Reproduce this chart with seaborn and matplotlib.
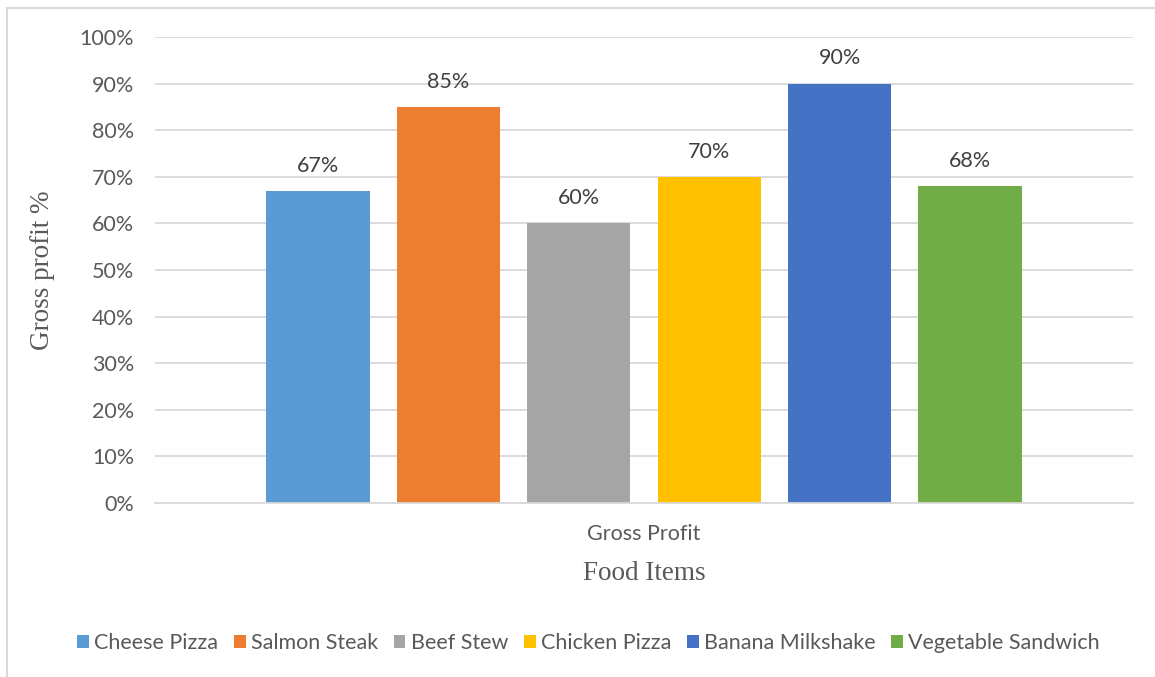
import matplotlib
matplotlib.use("Agg")
import matplotlib.pyplot as plt
import seaborn as sns
import pandas as pd
from matplotlib.lines import Line2D
from matplotlib.patches import Patch

items = ["Cheese Pizza", "Salmon Steak", "Beef Stew", "Chicken Pizza",
         "Banana Milkshake", "Vegetable Sandwich"]
values = [67, 85, 60, 70, 90, 68]
category = ["Gross Profit"] * len(items)
colors = ["#5B9BD5", "#ED7D31", "#A5A5A5", "#FFC000", "#4472C4", "#70AD47"]
yticks = [0, 10, 20, 30, 40, 50, 60, 70, 80, 90, 100]

df = pd.DataFrame({"cat": category, "item": items, "value": values})

sns.set_theme(style="white")
plt.rcParams["font.family"] = ["Lato", "DejaVu Sans"]

fig = plt.figure(figsize=(11.55, 6.77), dpi=100)
ax = fig.add_axes([155/1155, 1 - 503/677, (1133-155)/1155, (503-37)/677])

sns.barplot(data=df, x="cat", y="value", hue="item", hue_order=items,
            palette=colors, gap=0.21, width=0.8, ax=ax, legend=False,
            saturation=1, errorbar=None, linewidth=0, edgecolor="none")

ax.set_xlim(-0.5, 0.5)
ax.set_ylim(0, 100)
ax.set_yticks(yticks)
ax.set_yticklabels([f"{v}%" for v in yticks], fontsize=15.5, color="#595959")
ax.tick_params(axis="y", length=0, pad=15)
ax.tick_params(axis="x", length=0, pad=15, labelsize=15.5, labelcolor="#595959")
ax.grid(axis="y", color="#D9D9D9", linewidth=1.3)
ax.set_axisbelow(True)
for s in ["top", "right", "left"]:
    ax.spines[s].set_visible(False)
ax.spines["bottom"].set_color("#D9D9D9")
ax.spines["bottom"].set_linewidth(1.3)

for cont in ax.containers:
    ax.bar_label(cont, labels=[f"{int(v)}%" for v in cont.datavalues],
                 padding=11, fontsize=15.5, color="#404040")

ax.set_xlabel("Food Items", family=["Liberation Serif"], fontsize=19.5,
              color="#595959", labelpad=12)
ax.set_ylabel("Gross profit %", family=["Liberation Serif"], fontsize=19.5,
              color="#595959", labelpad=18)

handles = [Patch(facecolor=c, edgecolor="none") for c in colors]
fig.legend(handles, items, loc="center",
           bbox_to_anchor=(0.5 + 11/1155, 1 - 643/677),
           ncol=6, frameon=False, fontsize=15.5, labelcolor="#595959",
           handlelength=0.55, handleheight=0.55, handletextpad=0.25,
           columnspacing=0.72)

fig.add_artist(Line2D([7/1155, 1], [1 - 8/677, 1 - 8/677],
                      transform=fig.transFigure, color="#D9D9D9", lw=1.5))
fig.add_artist(Line2D([7/1155, 7/1155], [0, 1 - 8/677],
                      transform=fig.transFigure, color="#D9D9D9", lw=1.5))

fig.savefig("out.png", dpi=100)
